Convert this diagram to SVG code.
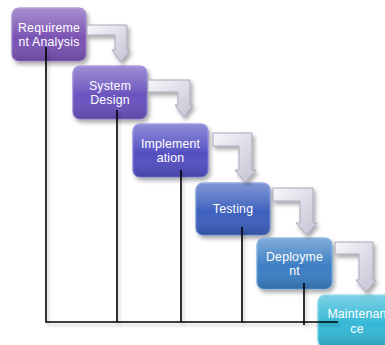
<svg xmlns="http://www.w3.org/2000/svg" width="385" height="345" viewBox="0 0 385 345">
<defs>
<filter id="sh" x="-20%" y="-20%" width="150%" height="150%">
<feDropShadow dx="2" dy="3" stdDeviation="2" flood-color="#000" flood-opacity="0.35"/>
</filter>
<filter id="lsh" x="-5%" y="-5%" width="110%" height="110%">
<feDropShadow dx="2" dy="3" stdDeviation="1.5" flood-color="#000" flood-opacity="0.2"/>
</filter>
<linearGradient id="gloss" x1="0" y1="0" x2="0" y2="1">
<stop offset="0" stop-color="#fff" stop-opacity="0.35"/>
<stop offset="0.45" stop-color="#fff" stop-opacity="0.08"/>
<stop offset="0.55" stop-color="#fff" stop-opacity="0"/>
<stop offset="1" stop-color="#000" stop-opacity="0.15"/>
</linearGradient>
<linearGradient id="arr" x1="0" y1="0" x2="1" y2="1">
<stop offset="0" stop-color="#f6f6fa"/>
<stop offset="1" stop-color="#c4c4d4"/>
</linearGradient>
<style>
.box{stroke-width:1.2;filter:url(#sh)}
.gl{fill:url(#gloss);stroke:none}
.t{fill:#fff;font-family:"Liberation Sans",Arial,sans-serif;font-size:12.3px;letter-spacing:0.2px;text-anchor:middle}
.ar{fill:url(#arr);stroke:#a8a8ba;stroke-width:1;filter:url(#sh)}
.ln{fill:none;stroke:#000;stroke-width:1.6}
</style>
</defs>
<g id="n1">
<rect class="box" x="12" y="8" width="74" height="53" rx="7" fill="#7a52b4" stroke="#9878c8"/>
<rect class="gl" x="12" y="8" width="74" height="53" rx="7"/>
<text class="t" x="49" y="31.5">Requireme</text>
<text class="t" x="49" y="45.5">nt Analysis</text>
</g>
<g id="n2">
<rect class="box" x="73" y="66" width="74" height="53" rx="7" fill="#6a52bf" stroke="#8a78d0"/>
<rect class="gl" x="73" y="66" width="74" height="53" rx="7"/>
<text class="t" x="110" y="89.5">System</text>
<text class="t" x="110" y="103.5">Design</text>
</g>
<g id="n3">
<rect class="box" x="133" y="124" width="75" height="53" rx="7" fill="#5250c2" stroke="#7878d4"/>
<rect class="gl" x="133" y="124" width="75" height="53" rx="7"/>
<text class="t" x="170.5" y="147.5">Implement</text>
<text class="t" x="170.5" y="161.5">ation</text>
</g>
<g id="n4">
<rect class="box" x="196" y="183" width="74" height="52" rx="7" fill="#3e60bd" stroke="#6888d0"/>
<rect class="gl" x="196" y="183" width="74" height="52" rx="7"/>
<text class="t" x="233" y="213">Testing</text>
</g>
<g id="n5">
<rect class="box" x="257" y="238" width="75" height="51" rx="7" fill="#3a7ec4" stroke="#68a2d8"/>
<rect class="gl" x="257" y="238" width="75" height="51" rx="7"/>
<text class="t" x="294.5" y="261">Deployme</text>
<text class="t" x="294.5" y="275">nt</text>
</g>
<g id="n6">
<rect class="box" x="318" y="295" width="76" height="52" rx="7" fill="#36b8d6" stroke="#70d4ea"/>
<rect class="gl" x="318" y="295" width="76" height="52" rx="7"/>
<text class="t" x="357" y="318">Maintenan</text>
<text class="t" x="357" y="333">ce</text>
</g>
<g id="connectors">
<path class="ar" d="M87,25 H127 V50 H130 L121,62 L112,50 H115 V35 H87 Z"/>
<path class="ar" d="M148,80 H190 V105 H193 L184,117 L175,105 H178 V92 H148 Z"/>
<path class="ar" d="M213,133 H252 V170 H256 L245.5,182 L235,170 H239 V146 H213 Z"/>
<path class="ar" d="M273,188 H313 V223 H317 L306.5,235 L296,223 H300 V201 H273 Z"/>
<path class="ar" d="M335,242 H373 V280 H376 L366,292 L356,280 H359 V254 H335 Z"/>
<g filter="url(#lsh)">
<path class="ln" d="M46,47 V322 M117,110 V322 M181,170 V322 M242,227 V322 M304,283 V325 M45.2,322 H338"/>
</g>
</g>
</svg>
